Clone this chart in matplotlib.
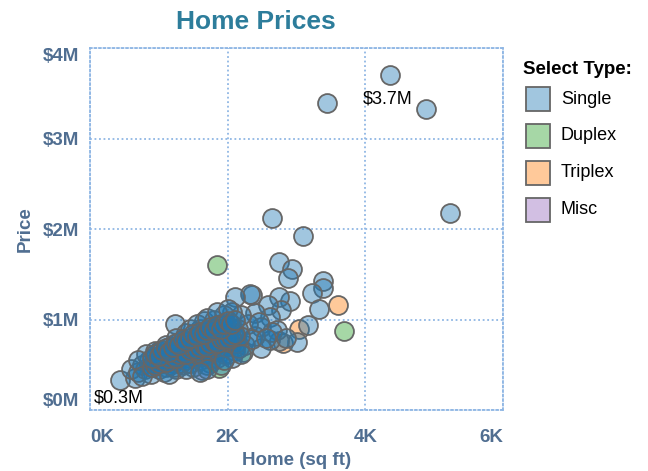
import matplotlib

matplotlib.use("Agg")
import matplotlib.pyplot as plt
from matplotlib.colors import to_rgba
from matplotlib.patches import Rectangle
from matplotlib.ticker import FuncFormatter

plt.rcParams["font.family"] = ["Liberation Sans", "DejaVu Sans"]

# home size (sq ft) and price ($M) per type
single_sqft = [
    4360, 3440, 4880, 5230, 2650, 3090, 2740, 2940, 2870, 3380, 3380, 3220, 2350, 3320,
    3160, 3000, 2750, 2610, 2480, 2900, 2750, 2780, 2580, 2610, 2320, 2100, 2390, 2490,
    2710, 2650, 2850, 2400, 2300, 2200, 2060, 2150, 2250, 2350, 2450, 2550,
    435, 650, 600, 700, 750, 800, 850, 900, 820, 950, 1000, 1000, 1050, 1100, 1100, 1150,
    1200, 1230, 1250, 1300, 1300, 1350, 1400, 1400, 1450, 1500, 1500, 1550, 1550, 1600,
    1600, 1650, 1650, 1700, 1700, 1750, 1750, 1800, 1800, 1850, 1850, 1900, 1900, 1950,
    1950, 2000, 2000, 2050, 2100, 2100,
    880, 920, 980, 1020, 1080, 1120, 1160, 1180, 1220, 1260, 1280, 1320, 1340, 1360, 1380,
    1420, 1440, 1460, 1480, 1520, 1540, 1560, 1580, 1620, 1640, 1660, 1680, 1720, 1740,
    1760, 1780, 1820, 1840, 1860, 1880, 1920, 1940, 1960, 1980, 2020, 2040, 2060, 2080,
    2120, 2160, 2180, 2200, 1100, 1050, 950, 700, 750, 1150, 1400, 1700, 1900, 1600, 1250,
    1450, 1550, 1700, 1850, 2000, 1950,
    900, 950, 1000, 1050, 1100, 1150, 1200, 1250, 1300, 1350, 1400, 1450, 1500, 1550,
    1600, 1650, 1700, 1750, 1800, 1850, 1900, 1950, 2000, 2050, 2100,
    900, 950, 1000, 1050, 1100, 1150, 1200, 1250, 1300, 1350, 1400, 1450, 1500, 1550,
    1600, 1650, 1700, 1750, 1800, 1850, 1900, 1950, 2000, 2050, 2100,
]
single_price = [
    3.70, 3.39, 3.33, 2.18, 2.12, 1.92, 1.64, 1.56, 1.46, 1.43, 1.35, 1.29, 1.27, 1.12,
    0.94, 0.75, 0.76, 0.77, 0.69, 1.20, 1.25, 1.10, 1.16, 1.03, 1.28, 1.25, 1.07, 0.92,
    0.88, 0.86, 0.80, 0.82, 0.95, 1.05, 1.08, 0.90, 0.72, 0.78, 0.97, 0.80,
    0.33, 0.35, 0.45, 0.42, 0.50, 0.45, 0.55, 0.48, 0.62, 0.58, 0.45, 0.65, 0.52, 0.60, 0.48, 0.70,
    0.55, 0.95, 0.45, 0.62, 0.75, 0.50, 0.68, 0.85, 0.58, 0.72, 0.48, 0.80, 0.62, 0.90,
    0.55, 0.70, 0.98, 0.78, 0.50, 0.62, 0.88, 0.72, 1.00, 0.58, 0.82, 0.95, 0.68, 0.75,
    1.05, 0.85, 0.62, 0.72, 0.80, 0.65,
    0.40, 0.52, 0.50, 0.55, 0.42, 0.55, 0.50, 0.62, 0.48, 0.58, 0.68, 0.52, 0.60, 0.72, 0.55,
    0.63, 0.75, 0.52, 0.66, 0.58, 0.70, 0.76, 0.64, 0.68, 0.60, 0.82, 0.72, 0.66, 0.80,
    0.56, 0.68, 0.78, 0.65, 0.90, 0.74, 0.82, 0.62, 0.88, 0.70, 0.78, 0.92, 0.58, 0.85,
    0.74, 0.68, 0.82, 0.62, 0.72, 0.62, 0.65, 0.55, 0.38, 0.40, 0.45, 0.45, 0.50, 0.42, 0.80,
    0.90, 0.95, 1.02, 1.08, 1.12, 0.55,
    0.47, 0.50, 0.52, 0.55, 0.53, 0.57, 0.60, 0.58, 0.62, 0.64, 0.62, 0.66, 0.68, 0.66,
    0.70, 0.72, 0.70, 0.74, 0.76, 0.74, 0.78, 0.80, 0.78, 0.82, 0.84,
    0.58, 0.62, 0.60, 0.66, 0.68, 0.64, 0.70, 0.74, 0.72, 0.78, 0.76, 0.80, 0.84, 0.82,
    0.86, 0.84, 0.88, 0.92, 0.88, 0.94, 0.90, 0.95, 0.98, 0.95, 1.00,
]
duplex_sqft = [1840, 3690, 2220, 1880, 1750, 2100]
duplex_price = [1.60, 0.87, 0.64, 0.46, 0.52, 0.70]
triplex_sqft = [3600, 3030, 2800]
triplex_price = [1.16, 0.89, 0.74]
misc_sqft = [1620, 1500, 1200]
misc_price = [0.44, 0.60, 0.52]

types = ["Single", "Duplex", "Triplex", "Misc"]
type_colors = ["#1f77b4", "#2ca02c", "#ff7f0e", "#9467bd"]
series = [
    (single_sqft, single_price),
    (duplex_sqft, duplex_price),
    (triplex_sqft, triplex_price),
    (misc_sqft, misc_price),
]

LABEL = "#506e91"
GRID = "#8fb6e4"
EDGE = "#666666"
ALPHA = 0.42

fig = plt.figure(figsize=(6.48, 4.71), dpi=100)
ax = fig.add_axes([90 / 648, 1 - 410 / 471, 413 / 648, 362 / 471])

# minor types underneath, singles on top
draw_order = [3, 1, 2, 0]
for i in draw_order:
    xs, ys = series[i]
    ax.scatter(xs, ys, s=185, facecolors=[to_rgba(type_colors[i], ALPHA)],
               edgecolors=EDGE, linewidths=1.3, zorder=3)

ax.set_xlim(0, 6000)
ax.set_ylim(0, 4)
ax.set_xticks([0, 2000, 4000, 6000])
ax.set_yticks([0, 1, 2, 3, 4])
ax.xaxis.set_major_formatter(FuncFormatter(lambda v, p: f"{v / 1000:.0f}K"))
ax.yaxis.set_major_formatter(FuncFormatter(lambda v, p: f"${v:.0f}M"))
ax.tick_params(length=0, labelsize=13.5, labelcolor=LABEL)
ax.tick_params(axis="x", pad=14)
ax.tick_params(axis="y", pad=8)
for lab in ax.get_xticklabels() + ax.get_yticklabels():
    lab.set_fontweight("bold")
ax.get_xticklabels()[0].set_ha("left")
ax.get_xticklabels()[-1].set_ha("right")
ax.get_yticklabels()[0].set_va("bottom")
ax.get_yticklabels()[-1].set_va("top")

ax.grid(True, color=GRID, linestyle=(0, (1, 1.5)), linewidth=1.3, zorder=0)
for sp in ax.spines.values():
    sp.set_color(GRID)
    sp.set_linestyle((0, (1, 1.5)))
    sp.set_linewidth(1.3)

ax.set_xlabel("Home (sq ft)", fontsize=13.5, fontweight="bold", color=LABEL, labelpad=4)
ax.set_ylabel("Price", fontsize=13.5, fontweight="bold", color=LABEL, labelpad=6)

# max / min annotations
i_max = single_price.index(max(single_price))
i_min = single_price.index(min(single_price))
ax.annotate(f"${single_price[i_max]:.1f}M", (single_sqft[i_max], single_price[i_max]),
            xytext=(-2, -17), textcoords="offset points", ha="center", va="center",
            fontsize=13, color="black", zorder=4)
ax.annotate(f"${single_price[i_min]:.1f}M", (single_sqft[i_min], single_price[i_min]),
            xytext=(-1, -13), textcoords="offset points", ha="center", va="center",
            fontsize=13, color="black", zorder=4)

fig.text(256 / 648, 1 - 22 / 471, "Home Prices", ha="center", va="center",
         fontsize=19, fontweight="bold", color="#2d7d9b")

# legend
fig.text(523 / 648, 1 - 70 / 471, "Select Type:", ha="left", va="center",
         fontsize=13.5, fontweight="bold", color="black")
for k, (name, col) in enumerate(zip(types, type_colors)):
    yc = 99 + 37 * k
    fig.add_artist(Rectangle((526 / 648, 1 - (yc + 12) / 471), 24 / 648, 24 / 471,
                             transform=fig.transFigure, facecolor=to_rgba(col, ALPHA),
                             edgecolor=EDGE, linewidth=1.3))
    fig.text(561 / 648, 1 - yc / 471, name, ha="left", va="center", fontsize=13,
             color="black")

fig.savefig("out.png", dpi=100, facecolor="white")
